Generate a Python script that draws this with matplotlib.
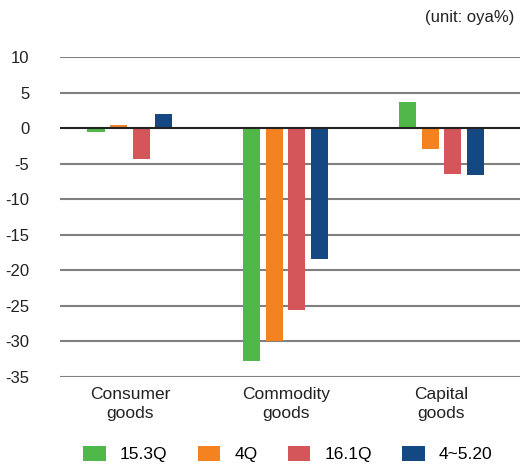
import matplotlib
matplotlib.use("Agg")
import matplotlib.pyplot as plt
import numpy as np

plt.rcParams['font.family'] = ['Liberation Sans', 'DejaVu Sans']

categories = ["Consumer\ngoods", "Commodity\ngoods", "Capital\ngoods"]
series_names = ["15.3Q", "4Q", "16.1Q", "4~5.20"]
s_153q = [-0.6, -32.8, 3.7]
s_4q = [0.5, -29.9, -3.0]
s_161q = [-4.4, -25.6, -6.4]
s_4_520 = [2.0, -18.4, -6.6]
colors = ["#50b848", "#f58220", "#d4555a", "#134882"]
yticks = [10, 5, 0, -5, -10, -15, -20, -25, -30, -35]

fig = plt.figure(figsize=(5.28, 4.67), dpi=100)
ax = fig.add_axes([0.1136, 0.193, 0.871, 0.685])

x = np.arange(len(categories))
step = 0.145
width = 0.11
series = [s_153q, s_4q, s_161q, s_4_520]
handles = []
for i, (vals, c, name) in enumerate(zip(series, colors, series_names)):
    b = ax.bar(x + (i - 1.5) * step, vals, width=width, color=c, label=name, zorder=3)
    handles.append(b)

ax.set_ylim(-35, 10)
ax.set_xlim(-0.449, 2.504)
ax.set_yticks(yticks)
ax.set_yticklabels([str(v) for v in yticks], fontsize=12, color="#222222")
ax.set_xticks(x)
ax.set_xticklabels(categories, fontsize=12.5, color="#222222", linespacing=1.35)
ax.tick_params(axis='both', length=0)
ax.tick_params(axis='y', pad=22)
ax.tick_params(axis='x', pad=7)
for s in ax.spines.values():
    s.set_visible(False)
for v in yticks:
    if v == 0:
        ax.axhline(v, color="#222222", lw=1.5, zorder=4)
    else:
        ax.axhline(v, color="#808080", lw=1.5, zorder=1)

fig.text(0.975, 0.962, "(unit: oya%)", ha="right", va="center", fontsize=12, color="#222222")

fig.legend(handles=handles, labels=series_names, loc="center", bbox_to_anchor=(0.545, 0.027),
           ncol=4, frameon=False, fontsize=12.5, handlelength=1.3, handleheight=0.9,
           handletextpad=0.8, columnspacing=1.75)

fig.savefig("out.png", dpi=100)
